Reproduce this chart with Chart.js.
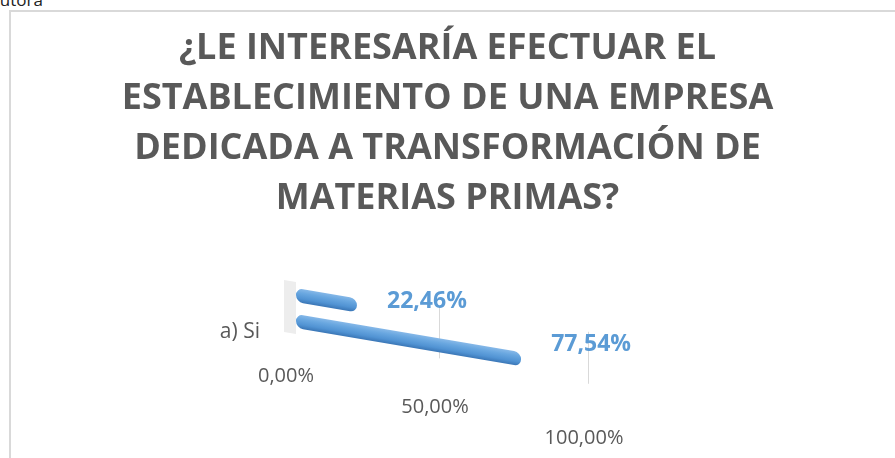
<!DOCTYPE html>
<html>
<head>
<meta charset="utf-8">
<script src="https://cdn.jsdelivr.net/npm/chart.js"></script>
<style>
  html, body { margin: 0; padding: 0; background: #fff; }
  #wrap { position: relative; width: 895px; height: 458px; overflow: hidden; }
  #frame { position: absolute; left: 9px; top: 10px; width: 890px; height: 452px;
           border-left: 2px solid #d9d9d9; border-top: 2px solid #d9d9d9; }
  #caption { position: absolute; left: -11px; top: -9px; font: 17px/17px "Open Sans", sans-serif; color: #222; }
  canvas { position: absolute; left: 0; top: 0; }
</style>
</head>
<body>
<div id="wrap">
  <div id="caption">Autora</div>
  <div id="frame"></div>
  <canvas id="chart" width="895" height="458"></canvas>
</div>
<script>
  const titleLines = [
    '¿LE INTERESARÍA EFECTUAR EL',
    'ESTABLECIMIENTO DE UNA EMPRESA',
    'DEDICADA A TRANSFORMACIÓN DE',
    'MATERIAS PRIMAS?'
  ];
  const categories = ['a) Si'];
  const seriesTop = [22.46];
  const seriesBottom = [77.54];
  const xTicks = [0, 50, 100];

  // inclinación de la vista 3D
  const BAR_SLOPE = 0.17;
  const LABEL_SLOPE = 0.21;
  const VALUE_SLOPE = 0.1;
  const GREY = '#595959';
  const BLUE = '#5b9bd5';

  const fmt = (v) => v.toFixed(2).replace('.', ',') + '%';

  class SkewedLinearScale extends Chart.LinearScale {
    _computeLabelItems(chartArea) {
      const items = super._computeLabelItems(chartArea);
      const x0 = this.left;
      items.forEach((item) => {
        const [x, y] = item.options.translation;
        item.options.translation = [x, y + LABEL_SLOPE * (x - x0)];
      });
      return items;
    }
    drawGrid(chartArea) {
      const ctx = this.ctx;
      ctx.save();
      ctx.transform(1, BAR_SLOPE, 0, 1, 0, -BAR_SLOPE * this.left);
      super.drawGrid(chartArea);
      ctx.restore();
    }
  }
  SkewedLinearScale.id = 'skewedLinear';
  SkewedLinearScale.defaults = Chart.LinearScale.defaults;
  Chart.register(SkewedLinearScale);

  const skewPlugin = {
    id: 'skewBars',
    beforeDatasetsDraw(chart) {
      const { ctx, chartArea } = chart;
      // degradado tipo cilindro para cada barra
      chart.data.datasets.forEach((ds, i) => {
        chart.getDatasetMeta(i).data.forEach((bar) => {
          const h = bar.height / 2;
          const g = ctx.createLinearGradient(0, bar.y - h, 0, bar.y + h);
          g.addColorStop(0, '#86b8e8');
          g.addColorStop(0.3, '#69a7e0');
          g.addColorStop(0.7, '#5193d3');
          g.addColorStop(1, '#3a76b6');
          bar.options = Object.assign({}, bar.options, { backgroundColor: g });
        });
      });
      ctx.save();
      ctx.transform(1, BAR_SLOPE, 0, 1, 0, -BAR_SLOPE * chartArea.left);
    },
    afterDatasetsDraw(chart) {
      const { ctx, chartArea } = chart;
      ctx.restore();
      // etiquetas de valor
      ctx.save();
      ctx.font = 'bold 23px "Open Sans"';
      ctx.fillStyle = BLUE;
      ctx.textAlign = 'center';
      ctx.textBaseline = 'middle';
      chart.data.datasets.forEach((ds, i) => {
        chart.getDatasetMeta(i).data.forEach((bar, j) => {
          const lx = bar.x + 70;
          ctx.fillText(fmt(ds.data[j]), lx, bar.y + VALUE_SLOPE * (lx - chartArea.left) - 6);
        });
      });
      ctx.restore();
    }
  };

  const barStyle = {
    backgroundColor: BLUE,
    borderWidth: 0,
    borderRadius: 7,
    borderSkipped: false,
    barPercentage: 0.54,
    categoryPercentage: 1,
    clip: false
  };

  new Chart(document.getElementById('chart'), {
    type: 'bar',
    data: {
      labels: categories,
      datasets: [
        { label: 'Serie 2', data: seriesTop, ...barStyle },
        { label: 'Serie 1', data: seriesBottom, ...barStyle }
      ]
    },
    plugins: [skewPlugin],
    options: {
      indexAxis: 'y',
      responsive: false,
      animation: false,
      events: [],
      layout: { padding: 0 },
      plugins: {
        legend: { display: false },
        tooltip: { enabled: false },
        title: {
          display: true,
          text: titleLines,
          color: GREY,
          font: { family: 'Open Sans', size: 36, weight: 'bold', lineHeight: '50px' },
          padding: { top: 24, bottom: 57 }
        }
      },
      scales: {
        x: {
          type: 'skewedLinear',
          min: 0,
          max: 100,
          afterBuildTicks: (s) => { s.ticks = xTicks.map((v) => ({ value: v })); },
          afterFit: (s) => { s.height = 125; },
          border: { display: false },
          grid: {
            drawTicks: false,
            color: (c) => (c.tick && c.tick.value === 0 ? '#ededed' : '#d9d9d9'),
            lineWidth: (c) => (c.tick && c.tick.value === 0 ? 12 : 1)
          },
          ticks: {
            padding: 32,
            labelOffset: -4,
            color: GREY,
            font: { family: 'Open Sans', size: 20 },
            callback: (v) => fmt(v)
          }
        },
        y: {
          type: 'category',
          afterFit: (s) => { s.width = 290; },
          border: { display: false },
          grid: { display: false, drawTicks: false },
          ticks: {
            padding: 30,
            labelOffset: 25,
            color: GREY,
            font: { family: 'Open Sans', size: 21 }
          }
        },
        yRight: {
          type: 'linear',
          position: 'right',
          afterFit: (s) => { s.width = 307; },
          border: { display: false },
          grid: { display: false },
          ticks: { display: false }
        }
      }
    }
  });
</script>
</body>
</html>
